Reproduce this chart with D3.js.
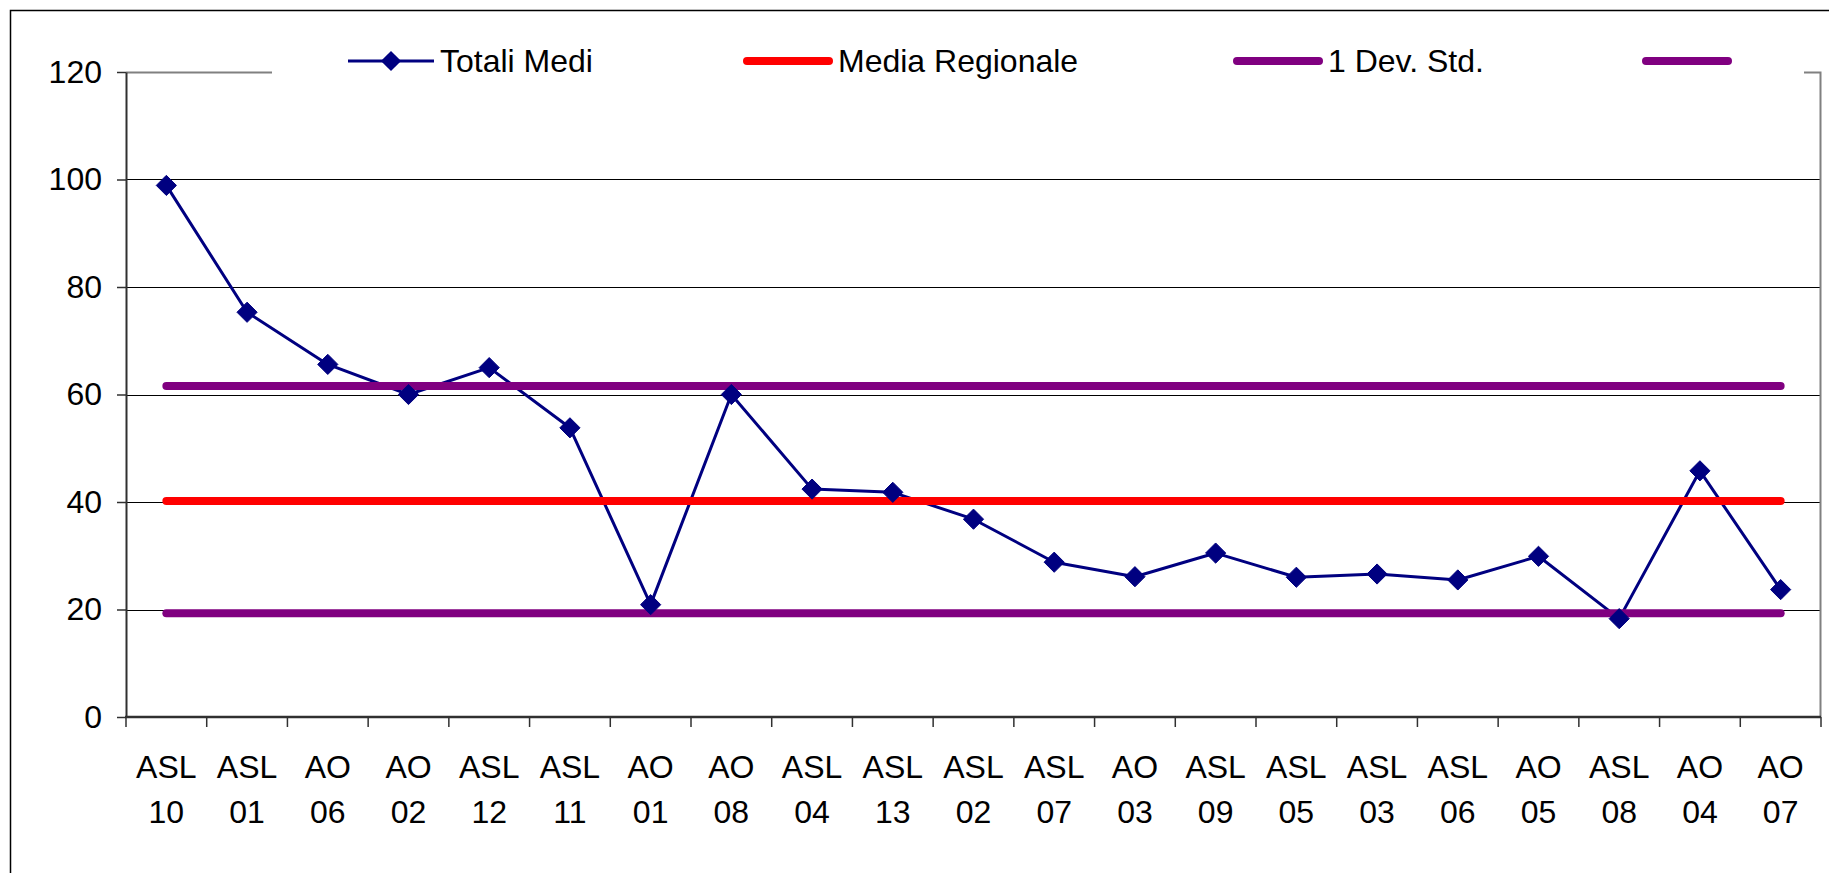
<!DOCTYPE html>
<html>
<head>
<meta charset="utf-8">
<script src="https://cdn.jsdelivr.net/npm/d3@7"></script>
<style>
  html, body { margin: 0; padding: 0; background: #fff; }
  svg { display: block; }
  text { font-family: "Liberation Sans", Arial, sans-serif; fill: #000; }
</style>
</head>
<body>
<svg id="chart" width="1829" height="873"></svg>
<script>
// Health units (ASL / AO), in plotted order
const categories = ["ASL 10","ASL 01","AO 06","AO 02","ASL 12","ASL 11","AO 01","AO 08","ASL 04","ASL 13","ASL 02","ASL 07","AO 03","ASL 09","ASL 05","ASL 03","ASL 06","AO 05","ASL 08","AO 04","AO 07"];
// Average totals per unit
const totaliMedi = [98.9, 75.3, 65.6, 60.0, 65.0, 53.8, 20.9, 60.0, 42.4, 41.8, 36.8, 28.8, 26.1, 30.5, 26.0, 26.6, 25.5, 29.9, 18.3, 45.8, 23.7];
// Regional mean and the band of one standard deviation around it
const mediaRegionale = 40.2;
const devStdSup = 61.6;
const devStdInf = 19.3;
// Y axis ticks
const yTicks = [0, 20, 40, 60, 80, 100, 120];
// Legend entries
const legendLabels = ["Totali Medi", "Media Regionale", "1 Dev. Std.", ""];

const svg = d3.select("#chart");
const W = 1829, H = 873;
const plot = { left: 126, right: 1821, top: 72, bottom: 717 };
const FONT = 32;

// outer chart frame
svg.append("rect")
  .attr("x", 10.5).attr("y", 10.5)
  .attr("width", W).attr("height", H)
  .attr("fill", "#fff").attr("stroke", "#000").attr("stroke-width", 1.5);

const x = d3.scaleBand().domain(categories).range([plot.left, plot.right]).padding(0);
const y = d3.scaleLinear().domain([0, 120]).range([plot.bottom, plot.top]);
const cx = d => x(d) + x.bandwidth() / 2;

// horizontal gridlines
svg.append("g")
  .selectAll("line")
  .data(yTicks.filter(t => t > 0 && t < 120))
  .join("line")
  .attr("x1", plot.left).attr("x2", plot.right)
  .attr("y1", d => Math.round(y(d)) + 0.5).attr("y2", d => Math.round(y(d)) + 0.5)
  .attr("stroke", "#000").attr("stroke-width", 1);

// plot area frame (top and right)
svg.append("path")
  .attr("d", `M${plot.left},${Math.round(y(120)) + 0.5}H${plot.right - 0.5}V${plot.bottom}`)
  .attr("fill", "none").attr("stroke", "#808080").attr("stroke-width", 2);

// left axis
const yAxis = d3.axisLeft(y).tickValues(yTicks).tickSize(9).tickPadding(15).tickSizeOuter(0);
const gy = svg.append("g").attr("transform", `translate(${plot.left},0)`).call(yAxis);
gy.select(".domain").attr("stroke", "#303030").attr("stroke-width", 2);
gy.selectAll(".tick line").attr("stroke", "#303030").attr("stroke-width", 1.5);
gy.selectAll(".tick text")
  .attr("font-size", FONT).attr("font-family", "Liberation Sans, Arial, sans-serif")
  .attr("fill", "#000");

// bottom axis: ticks between categories, two-line labels
const bounds = categories.map(c => x(c)).concat([x(categories[categories.length - 1]) + x.bandwidth()]);
const gx = svg.append("g");
gx.append("line")
  .attr("x1", plot.left - 1).attr("x2", plot.right)
  .attr("y1", plot.bottom).attr("y2", plot.bottom)
  .attr("stroke", "#303030").attr("stroke-width", 2.5);
gx.selectAll("line.tick")
  .data(bounds)
  .join("line").attr("class", "tick")
  .attr("x1", d => d).attr("x2", d => d)
  .attr("y1", plot.bottom).attr("y2", plot.bottom + 10)
  .attr("stroke", "#303030").attr("stroke-width", 1.5);
const lbl = gx.selectAll("text")
  .data(categories)
  .join("text")
  .attr("text-anchor", "middle")
  .attr("font-size", FONT)
  .attr("x", d => cx(d));
lbl.each(function(d) {
  const parts = d.split(" ");
  const t = d3.select(this);
  parts.forEach((p, i) => {
    t.append("tspan").attr("x", cx(d)).attr("y", plot.bottom + 61 + i * 45).text(p);
  });
});

// series line
const line = d3.line().x((d, i) => cx(categories[i])).y(d => y(d));
svg.append("path")
  .datum(totaliMedi)
  .attr("d", line)
  .attr("fill", "none").attr("stroke", "#000080").attr("stroke-width", 3)
  .attr("stroke-linejoin", "round");

// reference lines: mean and ±1 std dev
const refs = [
  { v: mediaRegionale, color: "#FF0000" },
  { v: devStdSup, color: "#800080" },
  { v: devStdInf, color: "#800080" }
];
svg.append("g").selectAll("line")
  .data(refs)
  .join("line")
  .attr("x1", cx(categories[0])).attr("x2", cx(categories[categories.length - 1]))
  .attr("y1", d => y(d.v)).attr("y2", d => y(d.v))
  .attr("stroke", d => d.color).attr("stroke-width", 8).attr("stroke-linecap", "round");

// diamond markers
const diamond = d3.symbol().type(d3.symbolDiamond2).size(260);
svg.append("g").selectAll("path")
  .data(totaliMedi)
  .join("path")
  .attr("d", diamond)
  .attr("transform", (d, i) => `translate(${cx(categories[i])},${y(d)})`)
  .attr("fill", "#000080").attr("stroke", "#000080").attr("stroke-width", 1);

// legend (white box over the top of the plot area)
svg.append("rect")
  .attr("x", 272).attr("y", 30).attr("width", 1532).attr("height", 56)
  .attr("fill", "#fff");
const legendX = [348, 743, 1233, 1642];
const legendColors = ["#000080", "#FF0000", "#800080", "#800080"];
const legendY = 61;
const lg = svg.append("g");
legendLabels.forEach((name, i) => {
  const g = lg.append("g");
  if (i === 0) {
    g.append("line")
      .attr("x1", legendX[i]).attr("x2", legendX[i] + 86)
      .attr("y1", legendY).attr("y2", legendY)
      .attr("stroke", legendColors[i]).attr("stroke-width", 3);
    g.append("path").attr("d", diamond)
      .attr("transform", `translate(${legendX[i] + 43},${legendY})`)
      .attr("fill", legendColors[i]);
  } else {
    g.append("line")
      .attr("x1", legendX[i] + 4).attr("x2", legendX[i] + 86)
      .attr("y1", legendY).attr("y2", legendY)
      .attr("stroke", legendColors[i]).attr("stroke-width", 8).attr("stroke-linecap", "round");
  }
  if (name) {
    g.append("text")
      .attr("x", legendX[i] + (i === 0 ? 92 : 95))
      .attr("y", legendY + 11)
      .attr("font-size", FONT)
      .text(name);
  }
});
</script>
</body>
</html>
